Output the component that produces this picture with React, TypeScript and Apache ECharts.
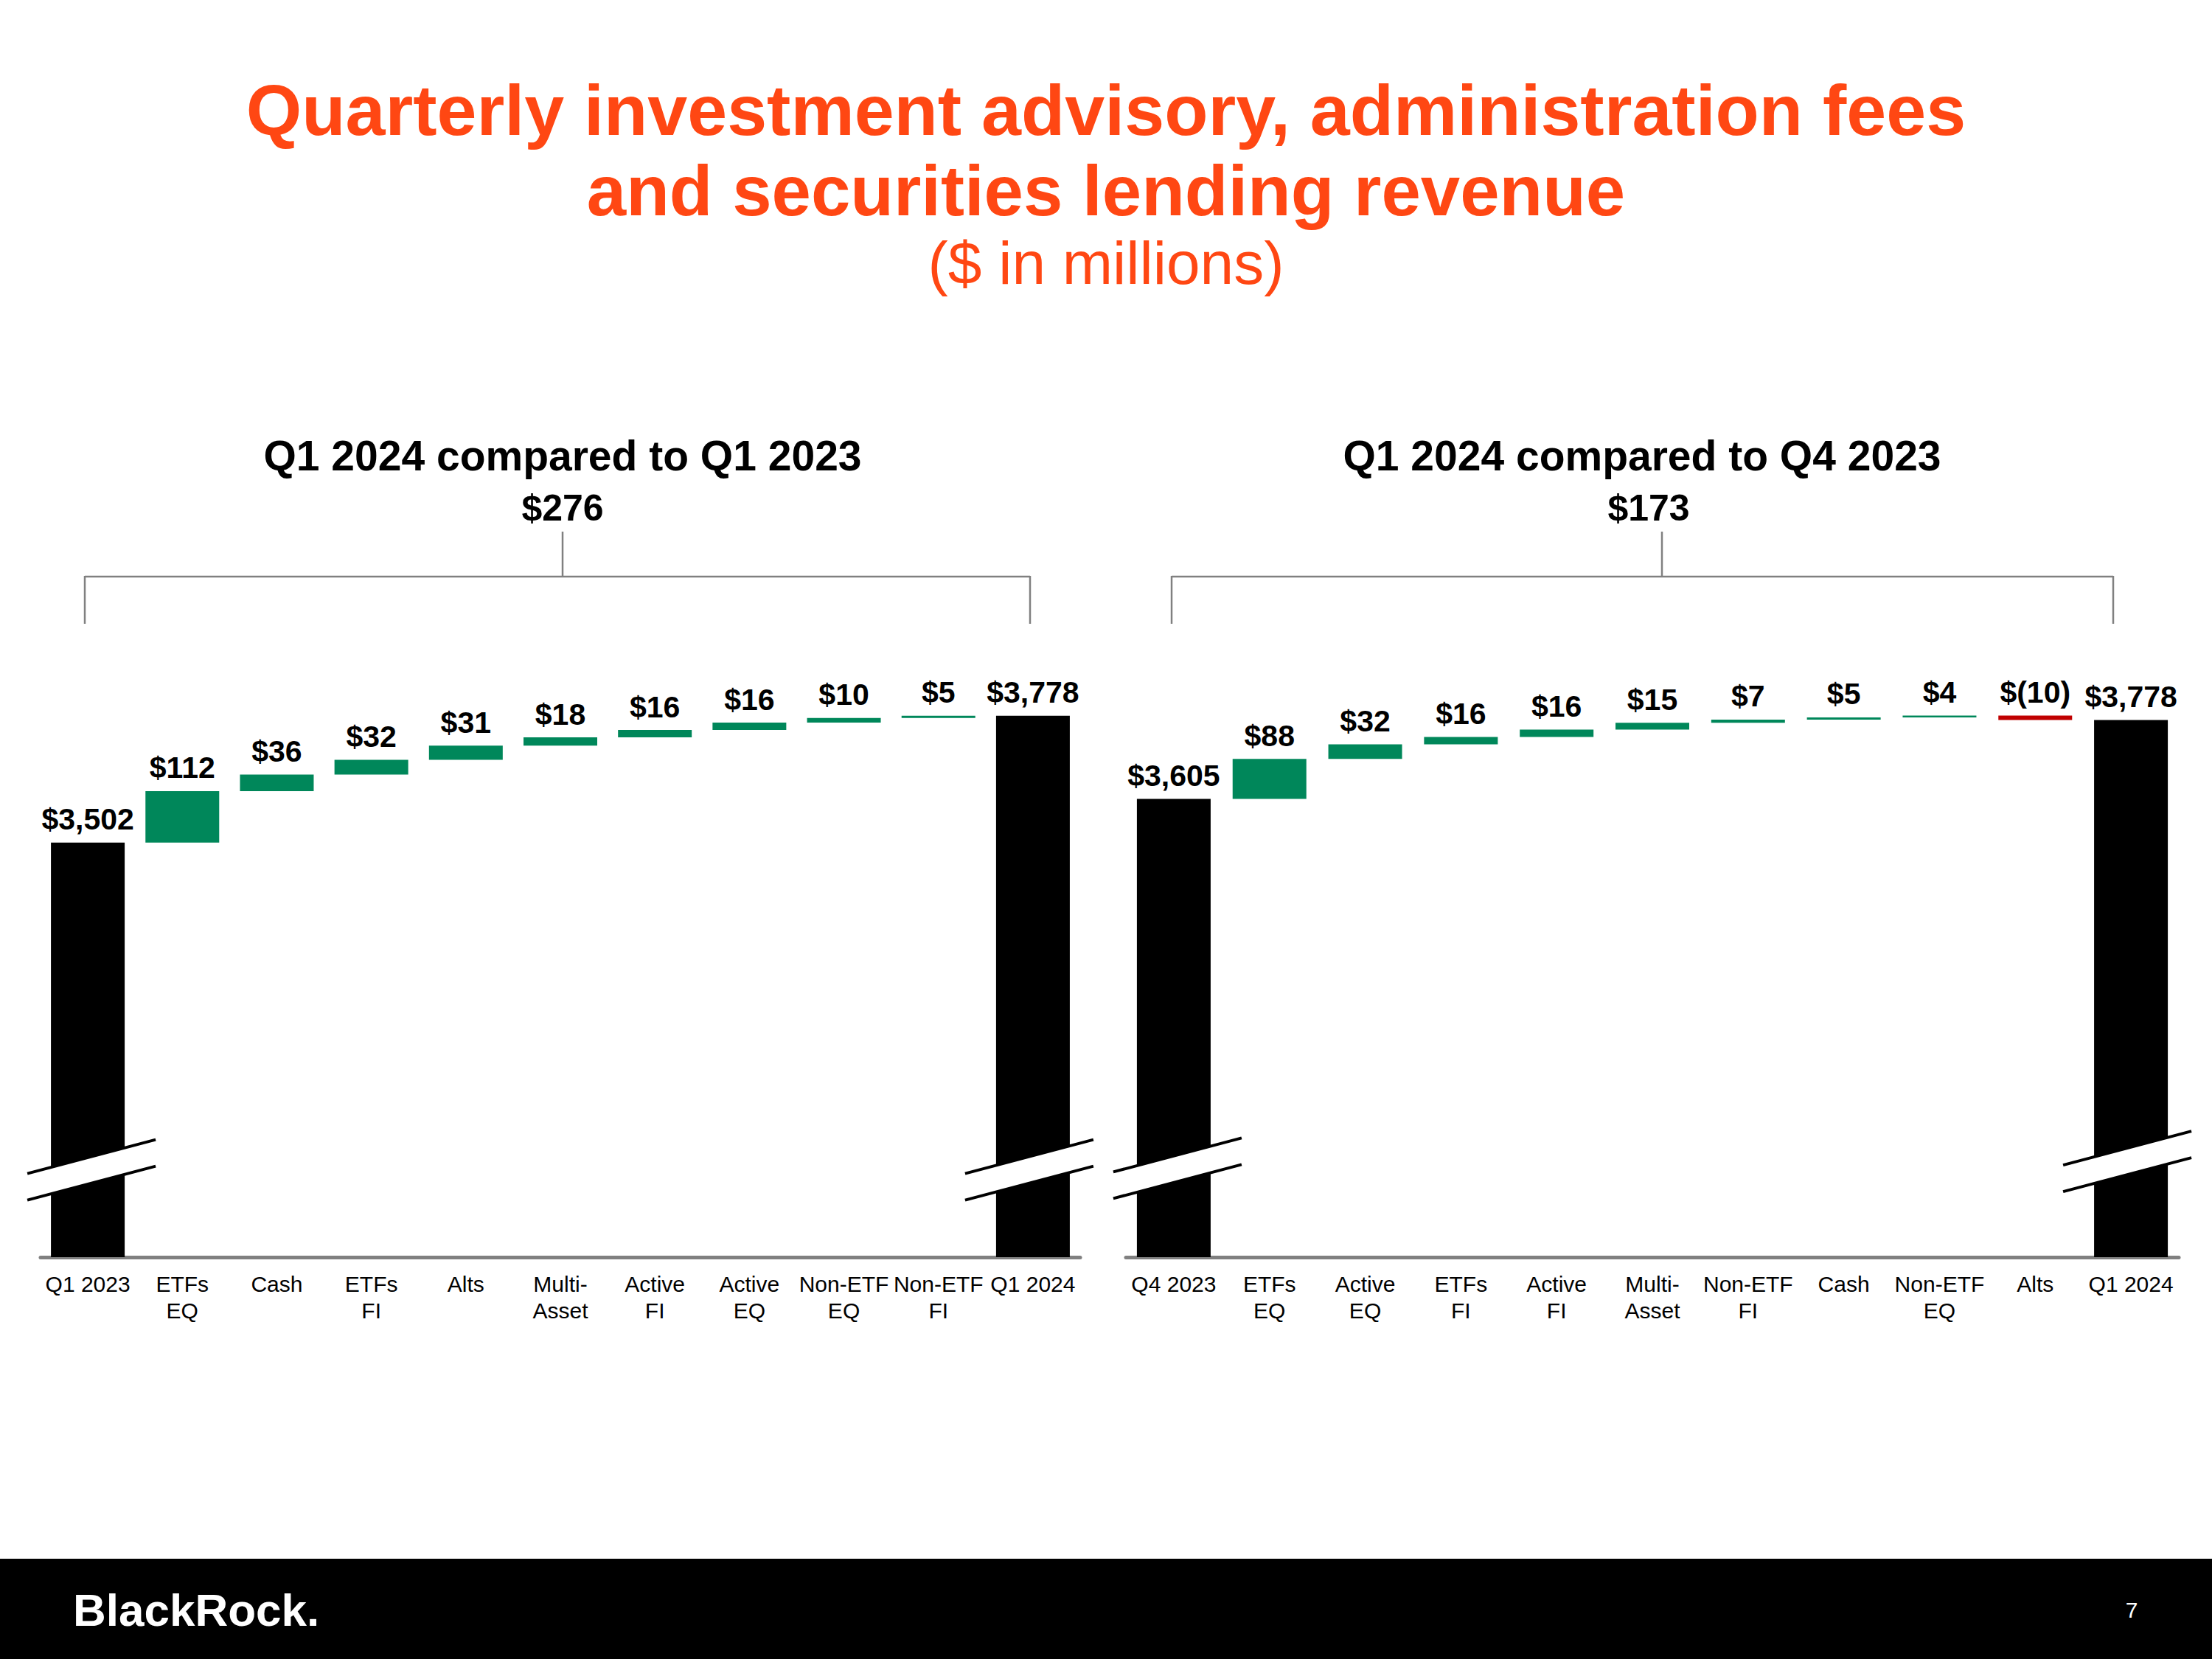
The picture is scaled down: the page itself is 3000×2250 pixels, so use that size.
import React, { useEffect, useRef } from 'react';
import * as echarts from 'echarts';

// ---------- DATA ----------
const LEFT_CATEGORIES = ['Q1 2023', 'ETFs\nEQ', 'Cash', 'ETFs\nFI', 'Alts', 'Multi-\nAsset', 'Active\nFI', 'Active\nEQ', 'Non-ETF\nEQ', 'Non-ETF\nFI', 'Q1 2024'];
const LEFT_START = 3502;
const LEFT_DELTAS = [112, 36, 32, 31, 18, 16, 16, 10, 5];
const LEFT_END = 3778;

const RIGHT_CATEGORIES = ['Q4 2023', 'ETFs\nEQ', 'Active\nEQ', 'ETFs\nFI', 'Active\nFI', 'Multi-\nAsset', 'Non-ETF\nFI', 'Cash', 'Non-ETF\nEQ', 'Alts', 'Q1 2024'];
const RIGHT_START = 3605;
const RIGHT_DELTAS = [88, 32, 16, 16, 15, 7, 5, 4, -10];
const RIGHT_END = 3778;

const CHART_TITLES = ['Q1 2024 compared to Q1 2023', 'Q1 2024 compared to Q4 2023'];
const MAIN_TITLE = ['Quarterly investment advisory, administration fees', 'and securities lending revenue'];
const SUB_TITLE = '($ in millions)';

// value-axis floor (broken axis) and where the break marks sit
const AXIS_MIN = 2600;
const AXIS_MAX = 3800;
const BREAK_VALUES = [[2790, 2790], [2795, 2810]];

// ---------- STYLE ----------
const GREEN = '#00875A';
const RED = '#C00000';
const BLACK = '#000000';
const ORANGE = '#FF4713';
const GRAY = '#808080';
const FONT = '"Liberation Sans", Arial, sans-serif';

function fmt(v: number): string {
  if (v < 0) return '$(' + Math.abs(v).toLocaleString('en-US') + ')';
  return '$' + v.toLocaleString('en-US');
}

function buildWaterfall(start: number, deltas: number[], end: number) {
  const base: number[] = [0];
  const bar: number[] = [start];
  const colors: string[] = [BLACK];
  const labels: string[] = [fmt(start)];
  let run = start;
  deltas.forEach((d) => {
    const next = run + d;
    base.push(Math.min(run, next));
    bar.push(Math.abs(d));
    colors.push(d >= 0 ? GREEN : RED);
    labels.push(fmt(d));
    run = next;
  });
  base.push(0);
  bar.push(end);
  colors.push(BLACK);
  labels.push(fmt(end));
  return { base, bar, colors, labels };
}

export default function App() {
  const ref = useRef<HTMLDivElement>(null);

  useEffect(() => {
    const chart = echarts.init(ref.current!, null, { renderer: 'svg' });
    const left = buildWaterfall(LEFT_START, LEFT_DELTAS, LEFT_END);
    const right = buildWaterfall(RIGHT_START, RIGHT_DELTAS, RIGHT_END);
    const wfs = [left, right];
    const totals = [LEFT_END - LEFT_START, RIGHT_END - RIGHT_START];

    const grids = [
      { left: 55, top: 957, width: 1410, height: 748 },
      { left: 1527, top: 963, width: 1428, height: 742 },
    ];

    const xAxes = [LEFT_CATEGORIES, RIGHT_CATEGORIES].map((cats, i) => ({
      type: 'category',
      gridIndex: i,
      data: cats,
      axisLine: { show: true, lineStyle: { color: GRAY, width: 5 } },
      axisTick: { show: false },
      axisLabel: {
        interval: 0,
        color: BLACK,
        fontSize: 30,
        lineHeight: 36,
        margin: 18,
        fontFamily: FONT,
      },
    }));

    const yAxes = [0, 1].map((i) => ({
      type: 'value',
      gridIndex: i,
      min: AXIS_MIN,
      max: AXIS_MAX,
      show: false,
      splitLine: { show: false },
    }));

    const series: any[] = [];
    wfs.forEach((wf, i) => {
      series.push({
        type: 'bar',
        name: 'base' + i,
        xAxisIndex: i,
        yAxisIndex: i,
        stack: 'wf' + i,
        barWidth: 100,
        silent: true,
        itemStyle: { color: 'rgba(0,0,0,0)' },
        data: wf.base,
        clip: true,
      });
      series.push({
        type: 'bar',
        name: 'value' + i,
        xAxisIndex: i,
        yAxisIndex: i,
        stack: 'wf' + i,
        barWidth: 100,
        clip: true,
        data: wf.bar.map((v, k) => ({ value: v, itemStyle: { color: wf.colors[k] } })),
        label: {
          show: true,
          position: 'top',
          distance: 11,
          formatter: (p: any) => wf.labels[p.dataIndex],
          color: BLACK,
          fontSize: 41,
          fontWeight: 'bold',
          fontFamily: FONT,
        },
      });
    });

    const text = (t: string, x: number, y: number, font: string, fill: string, align = 'center') => ({
      type: 'text',
      x,
      y,
      z: 50,
      style: {
        text: t,
        font,
        fill,
        align,
        verticalAlign: 'middle',
        textAlign: align,
        textVerticalAlign: 'middle',
      },
    });
    const line = (x1: number, y1: number, x2: number, y2: number, color: string, width: number) => ({
      type: 'line',
      z: 50,
      shape: { x1, y1, x2, y2 },
      style: { stroke: color, lineWidth: width },
    });

    const staticGraphics: any[] = [
      text(MAIN_TITLE[0], 1500, 149, `bold 97px ${FONT}`, ORANGE),
      text(MAIN_TITLE[1], 1500, 258, `bold 96px ${FONT}`, ORANGE),
      text(SUB_TITLE, 1500, 356, `82px ${FONT}`, ORANGE),
      text(CHART_TITLES[0], 763, 618, `bold 57px ${FONT}`, BLACK),
      text(fmt(totals[0]), 763, 689, `bold 50px ${FONT}`, BLACK),
      text(CHART_TITLES[1], 2227, 618, `bold 57px ${FONT}`, BLACK),
      text(fmt(totals[1]), 2236, 689, `bold 50px ${FONT}`, BLACK),
      // brackets
      line(115, 782, 1397, 782, GRAY, 2.5),
      line(115, 781, 115, 846, GRAY, 2.5),
      line(1397, 781, 1397, 846, GRAY, 2.5),
      line(763, 721, 763, 782, GRAY, 2.5),
      line(1589, 782, 2866, 782, GRAY, 2.5),
      line(1589, 781, 1589, 846, GRAY, 2.5),
      line(2866, 781, 2866, 846, GRAY, 2.5),
      line(2254, 721, 2254, 782, GRAY, 2.5),
      // footer
      { type: 'rect', z: 40, shape: { x: 0, y: 2114, width: 3000, height: 136 }, style: { fill: BLACK } },
      text('BlackRock.', 99, 2183, `bold 62px ${FONT}`, '#ffffff', 'left'),
      text('7', 2891, 2183, `30px ${FONT}`, '#ffffff'),
    ];

    chart.setOption({
      animation: false,
      backgroundColor: '#ffffff',
      grid: grids,
      xAxis: xAxes,
      yAxis: yAxes,
      series,
      graphic: { elements: staticGraphics },
    });

    // break marks on the total bars
    const breakGraphics: any[] = [];
    [0, 1].forEach((gi) => {
      const n = gi === 0 ? LEFT_CATEGORIES.length : RIGHT_CATEGORIES.length;
      [0, n - 1].forEach((cat, bi) => {
        const cx = chart.convertToPixel({ xAxisIndex: gi } as any, cat) as unknown as number;
        const cy = chart.convertToPixel({ yAxisIndex: gi } as any, BREAK_VALUES[gi][bi]) as unknown as number;
        const xc = cx + (bi === 0 ? 5 : -5);
        const hx = 87;
        const hy = 23;
        const g = 18;
        const p1 = [xc - hx, cy - g + hy];
        const p2 = [xc + hx, cy - g - hy];
        const p3 = [xc + hx, cy + g - hy];
        const p4 = [xc - hx, cy + g + hy];
        breakGraphics.push({
          type: 'polygon',
          z: 60,
          shape: { points: [p1, p2, p3, p4] },
          style: { fill: '#ffffff' },
        });
        breakGraphics.push(line(p1[0], p1[1], p2[0], p2[1], BLACK, 4));
        breakGraphics.push(line(p4[0], p4[1], p3[0], p3[1], BLACK, 4));
      });
    });
    breakGraphics.forEach((g) => (g.z = 60));

    chart.setOption({ graphic: { elements: staticGraphics.concat(breakGraphics) } });

    return () => chart.dispose();
  }, []);

  return (
    <div
      ref={ref}
      style={{ position: 'absolute', left: 0, top: 0, width: 3000, height: 2250, background: '#ffffff' }}
    />
  );
}
